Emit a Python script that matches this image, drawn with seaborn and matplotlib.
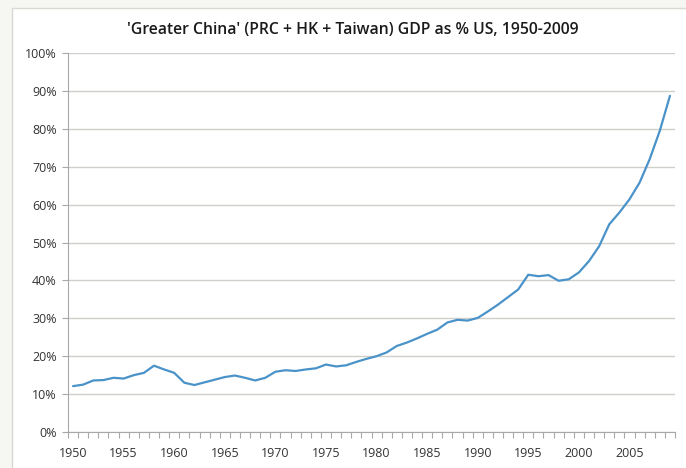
import matplotlib
matplotlib.use("Agg")
import matplotlib.pyplot as plt
from matplotlib.patches import Rectangle
from matplotlib.ticker import FixedLocator, PercentFormatter
import seaborn as sns
import pandas as pd

# GDP of PRC + HK + Taiwan as % of US GDP
years = list(range(1950, 2010))
share = [12.1, 12.5, 13.6, 13.7, 14.3, 14.1, 15.0, 15.6, 17.5, 16.5,
         15.6, 13.0, 12.4, 13.1, 13.8, 14.5, 14.9, 14.3, 13.6, 14.3,
         15.9, 16.3, 16.1, 16.5, 16.8, 17.8, 17.3, 17.6, 18.5, 19.3,
         20.0, 21.0, 22.7, 23.6, 24.7, 25.9, 27.0, 28.9, 29.6, 29.4,
         30.1, 31.8, 33.6, 35.6, 37.6, 41.5, 41.1, 41.4, 39.9, 40.3,
         42.1, 45.1, 49.0, 54.8, 57.9, 61.4, 65.8, 72.0, 79.5, 88.7]
label_years = list(range(1950, 2010, 5))
y_ticks = list(range(0, 101, 10))

df = pd.DataFrame({"year": years, "share": share})

sns.set_style("white")
plt.rcParams["font.family"] = ["Open Sans", "DejaVu Sans"]

fig = plt.figure(figsize=(6.86, 4.68), dpi=100, facecolor="#f6f6f3")
# chart area frame, as in the spreadsheet export
fig.patches.append(Rectangle((12 / 686, -0.01), 1.0, 1 - 8 / 468 + 0.01,
                             transform=fig.transFigure, facecolor="white",
                             edgecolor="#d9d9d4", linewidth=1.0, zorder=-1))

ax = fig.add_axes([68 / 686, 1 - 432 / 468, (675 - 68) / 686, (432 - 53) / 468])
ax.set_zorder(1)
ax.set_facecolor("none")

sns.lineplot(data=df, x="year", y="share", ax=ax, color="#4a93c9", linewidth=1.6)

ax.set_xlim(1949.5, 2009.5)
ax.set_ylim(0, 100)
ax.yaxis.set_major_locator(FixedLocator(y_ticks))
ax.yaxis.set_major_formatter(PercentFormatter(decimals=0))
ax.set_xticks(label_years)
ax.xaxis.set_minor_locator(FixedLocator([y - 0.5 for y in years] + [2009.5]))
ax.tick_params(axis="x", which="both", bottom=True)
ax.tick_params(axis="y", which="major", left=True)
ax.tick_params(axis="x", which="major", length=0, pad=11, labelsize=9, labelcolor="#333333")
ax.tick_params(axis="x", which="minor", length=4, width=0.8, color="#a8a8a8", direction="out")
ax.tick_params(axis="y", which="major", length=4, width=0.8, color="#a8a8a8", direction="out",
               pad=4, labelsize=9, labelcolor="#333333")

ax.grid(axis="y", color="#cfcfcb", linewidth=1.0)
ax.set_axisbelow(True)
for side in ["top", "right"]:
    ax.spines[side].set_visible(False)
for side in ["left", "bottom"]:
    ax.spines[side].set_color("#a8a8a8")
    ax.spines[side].set_linewidth(0.8)

ax.set_xlabel("")
ax.set_ylabel("")
fig.text(353 / 686, 1 - 30 / 468, "'Greater China' (PRC + HK + Taiwan) GDP as % US, 1950-2009",
         ha="center", va="center", fontsize=11.3, fontweight="semibold", color="#1a1a1a")

fig.savefig("out.png", dpi=100, facecolor=fig.get_facecolor())
